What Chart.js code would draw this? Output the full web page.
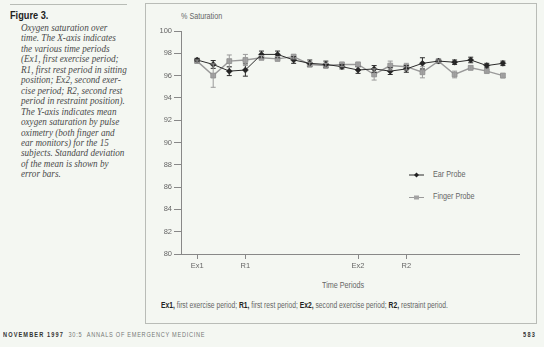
<!DOCTYPE html>
<html>
<head>
<meta charset="utf-8">
<script src="https://cdn.jsdelivr.net/npm/chart.js@4.4.1/dist/chart.umd.min.js"></script>
<style>
  body { margin: 0; background: #f4f7f2; width: 544px; height: 347px; overflow: hidden; position: relative; }
  .abs { position: absolute; white-space: nowrap; }
  .narrow { font-family: "Liberation Sans", Arial, sans-serif; transform: scaleX(0.8); transform-origin: 0 50%; }
  #topRule { left: 10px; top: 4px; width: 117px; height: 0; border-top: 1px solid #b8bcb6; }
  #figTitle { left: 10px; top: 9px; font-weight: bold; font-size: 11.5px; color: #222; }
  #caption { left: 21px; top: 23px; font: italic 10.5px/10.45px "Liberation Serif", serif; color: #4a4a4a; transform: scaleX(0.87); transform-origin: 0 0; }
  #box { left: 145px; top: 3px; width: 390px; height: 319px; border: 1px solid #b9bcb7; }
  #yTitle { left: 181px; top: 11px; font-size: 9px; color: #666; }
  #xTitle { left: 322px; top: 280px; font-size: 9px; color: #666; }
  #note { left: 161px; top: 300px; font-size: 8.9px; color: #666; transform: scaleX(0.76); }
  #note b { color: #222; }
  .leg { left: 433px; font-size: 9px; color: #666; }
  #footL { left: 3px; top: 331px; font-size: 7px; color: #777; letter-spacing: 0.9px; }
  #footL b { color: #333; letter-spacing: 1.4px; }
  #footR { left: 523px; top: 331px; font-size: 7px; color: #333; font-weight: bold; letter-spacing: 1.6px; }
</style>
</head>
<body>
<div class="abs" id="topRule"></div>
<div class="abs narrow" id="figTitle">Figure 3.</div>
<div class="abs" id="caption">Oxygen saturation over<br>time. The X-axis indicates<br>the various time periods<br>(Ex1, first exercise period;<br>R1, first rest period in sitting<br>position; Ex2, second exer-<br>cise period; R2, second rest<br>period in restraint position).<br>The Y-axis indicates mean<br>oxygen saturation by pulse<br>oximetry (both finger and<br>ear monitors) for the 15<br>subjects. Standard deviation<br>of the mean is shown by<br>error bars.</div>
<div class="abs" id="box"></div>
<div class="abs narrow" id="yTitle">% Saturation</div>
<div class="abs narrow" id="xTitle">Time Periods</div>
<div class="abs narrow" id="note"><b>Ex1,</b> first exercise period; <b>R1,</b> first rest period; <b>Ex2,</b> second exercise period; <b>R2,</b> restraint period.</div>
<div class="abs narrow leg" style="top:169px">Ear Probe</div>
<div class="abs narrow leg" style="top:191px">Finger Probe</div>
<div class="abs narrow" id="footL"><b>NOVEMBER 1997</b>&nbsp; 30:5 &nbsp;ANNALS OF EMERGENCY MEDICINE</div>
<div class="abs narrow" id="footR">583</div>
<canvas id="chart" width="544" height="347" style="position:absolute;left:0;top:0"></canvas>
<script>
// time period index of each measurement (0..19)
const periods = [0, 1, 2, 3, 4, 5, 6, 7, 8, 9, 10, 11, 12, 13, 14, 15, 16, 17, 18, 19];
const earProbe = [97.4, 97.0, 96.4, 96.5, 97.9, 97.9, 97.4, 97.1, 97.0, 96.8, 96.5, 96.6, 96.4, 96.6, 97.1, 97.3, 97.2, 97.4, 96.9, 97.1];
const earSD = [0.15, 0.35, 0.4, 0.55, 0.3, 0.3, 0.3, 0.3, 0.3, 0.2, 0.3, 0.3, 0.3, 0.3, 0.5, 0.1, 0.2, 0.25, 0.2, 0.2];
const fingerProbe = [97.3, 96.0, 97.3, 97.4, 97.6, 97.5, 97.7, 97.0, 96.9, 97.0, 97.0, 96.1, 96.9, 96.8, 96.3, 97.3, 96.1, 96.7, 96.4, 96.0];
const fingerSD = [0.1, 1.05, 0.55, 0.5, 0.2, 0.2, 0.2, 0.2, 0.2, 0.2, 0.2, 0.5, 0.4, 0.3, 0.5, 0.1, 0.3, 0.2, 0.1, 0.2];
const xTickPos = [0, 3, 10, 13];
const xTickLabels = ['Ex1', 'R1', 'Ex2', 'R2'];

const axisFont = { family: '"Liberation Sans", Arial, sans-serif', size: 7.5 };

// error bars drawn through the y scale
const errorBars = {
    id: 'errorBars',
    afterDatasetsDraw(chart) {
        const ctx = chart.ctx;
        const y = chart.scales.y;
        chart.data.datasets.forEach((ds, i) => {
            const meta = chart.getDatasetMeta(i);
            ctx.save();
            ctx.strokeStyle = ds.borderColor;
            ctx.lineWidth = 1;
            meta.data.forEach((pt, j) => {
                const v = ds.data[j].y, sd = ds.sd[j];
                const top = y.getPixelForValue(v + sd), bot = y.getPixelForValue(v - sd);
                ctx.beginPath();
                ctx.moveTo(pt.x, top); ctx.lineTo(pt.x, bot);
                ctx.moveTo(pt.x - 2.5, top); ctx.lineTo(pt.x + 2.5, top);
                ctx.moveTo(pt.x - 2.5, bot); ctx.lineTo(pt.x + 2.5, bot);
                ctx.stroke();
            });
            ctx.restore();
        });
    }
};

// small legend next to the plot
const sideLegend = {
    id: 'sideLegend',
    afterDraw(chart) {
        const ctx = chart.ctx;
        const rows = [[chart.data.datasets[0], 175], [chart.data.datasets[1], 197.5]];
        rows.forEach(([ds, yy]) => {
            ctx.save();
            ctx.strokeStyle = ds.borderColor;
            ctx.lineWidth = 1;
            ctx.beginPath(); ctx.moveTo(409, yy); ctx.lineTo(424, yy); ctx.stroke();
            ctx.fillStyle = ds.pointBackgroundColor;
            if (ds.pointStyle === 'rectRot') {
                ctx.beginPath();
                ctx.moveTo(416.5, yy - 2.5); ctx.lineTo(419, yy); ctx.lineTo(416.5, yy + 2.5); ctx.lineTo(414, yy);
                ctx.closePath(); ctx.fill();
            } else {
                ctx.fillRect(414, yy - 2, 5, 4);
            }
            ctx.restore();
        });
    }
};

new Chart(document.getElementById('chart'), {
    type: 'line',
    data: {
        datasets: [{
            label: 'Ear Probe',
            data: periods.map((p, i) => ({ x: p, y: earProbe[i] })),
            sd: earSD,
            borderColor: '#2b2b2b',
            borderWidth: 1,
            pointStyle: 'rectRot',
            pointRadius: 3,
            pointBackgroundColor: '#222',
            pointBorderColor: '#222',
            pointBorderWidth: 0.5
        }, {
            label: 'Finger Probe',
            data: periods.map((p, i) => ({ x: p, y: fingerProbe[i] })),
            sd: fingerSD,
            borderColor: '#9a9a9a',
            borderWidth: 1.4,
            pointStyle: 'rect',
            pointRadius: 3.4,
            pointBackgroundColor: '#a3a3a3',
            pointBorderColor: '#8a8a8a',
            pointBorderWidth: 0.8
        }]
    },
    options: {
        responsive: false,
        animation: false,
        layout: { padding: { left: 145, top: 31, right: 25, bottom: 73 } },
        plugins: { legend: { display: false }, tooltip: { enabled: false } },
        scales: {
            x: {
                type: 'linear',
                min: -1,
                max: 20,
                afterBuildTicks: (s) => { s.ticks = xTickPos.map(v => ({ value: v })); },
                afterFit: (s) => { s.height = 20; },
                ticks: {
                    autoSkip: false,
                    maxRotation: 0,
                    padding: 2,
                    color: '#666',
                    font: axisFont,
                    callback: (v) => xTickLabels[xTickPos.indexOf(v)]
                },
                grid: { drawOnChartArea: false, tickLength: 5, color: '#888' },
                border: { color: '#888', width: 1 }
            },
            y: {
                min: 80,
                max: 100,
                afterFit: (s) => { s.width = 36; },
                ticks: { stepSize: 2, padding: 2, color: '#666', font: axisFont },
                grid: { drawOnChartArea: false, tickLength: 7, color: '#888' },
                border: { color: '#888', width: 1 }
            }
        }
    },
    plugins: [errorBars, sideLegend]
});
</script>
</body>
</html>
